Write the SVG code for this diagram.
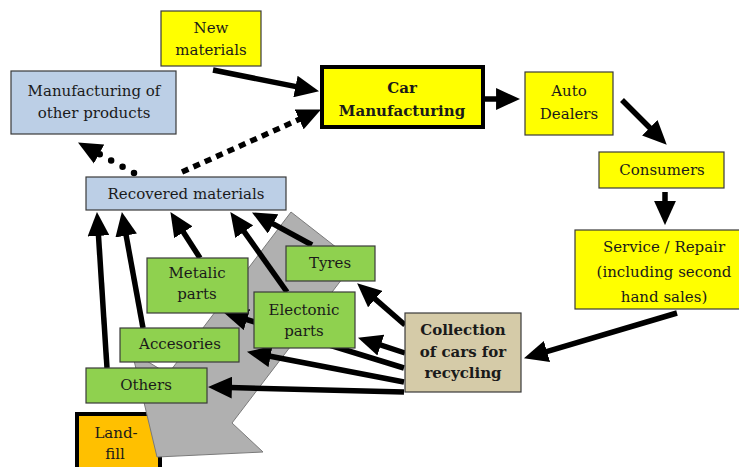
<svg xmlns="http://www.w3.org/2000/svg" width="739" height="467" viewBox="0 0 739 467">
  <style>
    .box { stroke: #3a3a3a; stroke-width: 1.2; }
    .yellow { fill: #ffff00; }
    .blue { fill: #bccfe6; }
    .green { fill: #8fd14f; }
    .tan { fill: #d5cba8; }
    .orange { fill: #ffc000; }
    .thick { stroke: #000; stroke-width: 4; }
    text { font-family: "DejaVu Serif", "Liberation Serif", serif; font-size: 15px; fill: #1a1a1a; text-anchor: middle; }
    .bold { font-weight: bold; }
    .flow { stroke: #000; stroke-width: 5.5; fill: none; marker-end: url(#head); }
    .squares { stroke-dasharray: 7 5.5; }
    .dots { stroke-dasharray: 0 13; stroke-linecap: round; stroke-width: 6.5; }
  </style>
  <defs>
    <marker id="head" markerUnits="userSpaceOnUse" markerWidth="24" markerHeight="22" viewBox="0 0 22 20" refX="10" refY="10" orient="auto">
      <path d="M0,0 L22,10 L0,20 Z" fill="#000"/>
    </marker>
  </defs>

  <rect width="739" height="467" fill="#fff"/>

  <!-- landfill sits underneath the big grey flow arrow -->
  <g id="landfill">
    <rect class="orange thick" x="77" y="414" width="83" height="60"/>
    <text x="116" y="438">Land-</text>
    <text x="115" y="459">fill</text>
  </g>

  <!-- big grey block arrow pointing down to the landfill -->
  <polygon id="waste-flow" points="291,212 355,262 232,423 263,452 157,457 132,352 168,374" fill="#b0b0b0" stroke="#7a7a7a" stroke-width="1"/>

  <g id="connectors">
    <line class="flow" x1="213" y1="70" x2="306.2" y2="88.6"/>
    <line class="flow squares" x1="182" y1="172" x2="309.1" y2="114.9"/>
    <line class="flow dots" x1="134" y1="173" x2="89.5" y2="148.8"/>
    <line class="flow" x1="484" y1="99" x2="507" y2="99"/>
    <line class="flow" x1="622" y1="100" x2="657.5" y2="135.5"/>
    <line class="flow" x1="665" y1="192" x2="665" y2="212"/>
    <line class="flow" x1="677" y1="313" x2="536.5" y2="354.6"/>
    <line class="flow" x1="405" y1="325" x2="367" y2="291.9"/>
    <line class="flow" x1="405" y1="353" x2="370.4" y2="341.7"/>
    <line class="flow" x1="404" y1="368" x2="236.5" y2="316.5"/>
    <line class="flow" x1="404" y1="382" x2="259.8" y2="354.3"/>
    <line class="flow" x1="404" y1="392" x2="221" y2="387.3"/>
    <line class="flow" x1="107" y1="368" x2="97.8" y2="225"/>
    <line class="flow" x1="143" y1="328" x2="124.2" y2="224.8"/>
    <line class="flow" x1="200" y1="258" x2="177.5" y2="223.1"/>
    <line class="flow" x1="287" y1="292" x2="237.9" y2="222.8"/>
    <line class="flow" x1="312" y1="245" x2="263.5" y2="218.7"/>
  </g>

  <g id="new-materials">
    <rect class="box yellow" x="161" y="11" width="100" height="55"/>
    <text x="211" y="33">New</text>
    <text x="211" y="55">materials</text>
  </g>

  <g id="other-products">
    <rect class="box blue" x="11" y="71" width="165" height="63"/>
    <text x="94" y="96">Manufacturing of</text>
    <text x="94" y="118">other products</text>
  </g>

  <g id="car-manufacturing">
    <rect class="yellow thick" x="322" y="67" width="161" height="60"/>
    <text class="bold" x="402" y="93">Car</text>
    <text class="bold" x="402" y="116">Manufacturing</text>
  </g>

  <g id="auto-dealers">
    <rect class="box yellow" x="525" y="72" width="88" height="63"/>
    <text x="569" y="96">Auto</text>
    <text x="569" y="119">Dealers</text>
  </g>

  <g id="consumers">
    <rect class="box yellow" x="599" y="152" width="125" height="36"/>
    <text x="662" y="175">Consumers</text>
  </g>

  <g id="service-repair">
    <rect class="box yellow" x="575" y="230" width="172" height="79"/>
    <text x="664" y="252">Service / Repair</text>
    <text x="664" y="277">(including second</text>
    <text x="664" y="302">hand sales)</text>
  </g>

  <g id="collection">
    <rect class="box tan" x="405" y="313" width="116" height="79"/>
    <text class="bold" x="463" y="335">Collection</text>
    <text class="bold" x="463" y="357">of cars for</text>
    <text class="bold" x="463" y="378">recycling</text>
  </g>

  <g id="recovered-materials">
    <rect class="box blue" x="86" y="177" width="200" height="33"/>
    <text x="186" y="199">Recovered materials</text>
  </g>

  <g id="tyres">
    <rect class="box green" x="286" y="246" width="89" height="35"/>
    <text x="330" y="268">Tyres</text>
  </g>

  <g id="metalic-parts">
    <rect class="box green" x="147" y="258" width="101" height="55"/>
    <text x="197" y="278">Metalic</text>
    <text x="197" y="299">parts</text>
  </g>

  <g id="electonic-parts">
    <rect class="box green" x="254" y="292" width="101" height="56"/>
    <text x="304" y="315">Electonic</text>
    <text x="304" y="336">parts</text>
  </g>

  <g id="accesories">
    <rect class="box green" x="120" y="328" width="119" height="34"/>
    <text x="180" y="349">Accesories</text>
  </g>

  <g id="others">
    <rect class="box green" x="86" y="368" width="121" height="35"/>
    <text x="146" y="390">Others</text>
  </g>
</svg>
